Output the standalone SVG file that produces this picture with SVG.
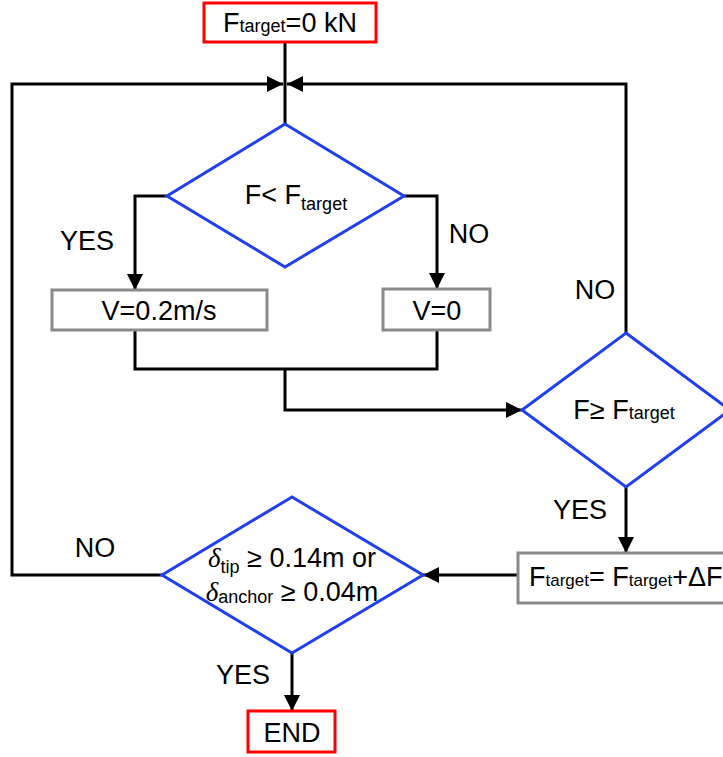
<svg xmlns="http://www.w3.org/2000/svg" width="723" height="757" viewBox="0 0 723 757">
<style>
text{font-family:"Liberation Sans",Arial,sans-serif;font-size:27px;fill:#000}
.sub{font-size:18px}
.red{fill:#fff;stroke:#ff0000;stroke-width:3}
.gray{fill:#fff;stroke:#8a8a8a;stroke-width:3}
.dia{fill:#fff;stroke:#1f3ff0;stroke-width:3;stroke-linejoin:miter}
.ln{fill:none;stroke:#000;stroke-width:3}
.ar{fill:none;stroke:#000;stroke-width:3;marker-end:url(#ah)}
</style>
<defs>
<marker id="ah" viewBox="0 0 16 16" refX="16" refY="8" markerWidth="16" markerHeight="16" markerUnits="userSpaceOnUse" orient="auto">
<path d="M0,0 L16,8 L0,16 Z" fill="#000"/>
</marker>
</defs>
<rect width="723" height="757" fill="#fff"/>
<g id="connectors">
<path class="ln" d="M285,42 V124"/>
<path class="ar" d="M162,575 H12 V84 H283"/>
<path class="ar" d="M626,333 V84 H287"/>
<path class="ar" d="M167,196 H135 V290"/>
<path class="ar" d="M404,196 H437 V289"/>
<path class="ln" d="M135,330 V369 H437 V330"/>
<path class="ar" d="M285,369 V410 H522"/>
<path class="ar" d="M626,487 V553"/>
<path class="ar" d="M518,575 H423"/>
<path class="ar" d="M292,653 V711"/>
<text x="87" y="250" text-anchor="middle">YES</text>
<text x="469" y="243" text-anchor="middle">NO</text>
<text x="595" y="299" text-anchor="middle">NO</text>
<text x="580" y="519" text-anchor="middle">YES</text>
<text x="95" y="557" text-anchor="middle">NO</text>
<text x="243" y="684" text-anchor="middle">YES</text>
</g>
<g id="start">
<rect class="red" x="204" y="3" width="172" height="39"/>
<text x="290" y="32" text-anchor="middle">F<tspan class="sub">target</tspan>=0 kN</text>
</g>
<g id="dec1">
<polygon class="dia" points="285,124 404,196 285,267 167,196"/>
<text x="296" y="204" text-anchor="middle">F&lt; F<tspan class="sub" dy="6">target</tspan></text>
</g>
<g id="v02">
<rect class="gray" x="52" y="290" width="215" height="40"/>
<text x="159" y="320" text-anchor="middle">V=0.2m/s</text>
</g>
<g id="v0">
<rect class="gray" x="383" y="289" width="107" height="41"/>
<text x="437" y="320" text-anchor="middle">V=0</text>
</g>
<g id="dec2">
<polygon class="dia" points="626,333 730,410 626,487 522,410"/>
<text x="624" y="419" text-anchor="middle">F≥ F<tspan class="sub">target</tspan></text>
</g>
<g id="update">
<rect class="gray" x="518" y="553" width="215" height="50"/>
<text x="529" y="586" font-size="25">F<tspan font-size="17">target</tspan>= F<tspan font-size="17">target</tspan>+ΔF</text>
</g>
<g id="dec3">
<polygon class="dia" points="292,497 423,575 292,653 162,575"/>
<text x="292" y="567" text-anchor="middle"><tspan font-style="italic" font-family="'Liberation Serif',serif">δ</tspan><tspan class="sub" dy="6">tip</tspan><tspan dy="-6"> ≥ 0.14m or</tspan></text>
<text x="292" y="601" text-anchor="middle"><tspan font-style="italic" font-family="'Liberation Serif',serif">δ</tspan><tspan class="sub" dy="2">anchor</tspan><tspan dy="-2"> ≥ 0.04m</tspan></text>
</g>
<g id="end">
<rect class="red" x="248" y="711" width="87" height="41"/>
<text x="292" y="742" text-anchor="middle">END</text>
</g>
</svg>
